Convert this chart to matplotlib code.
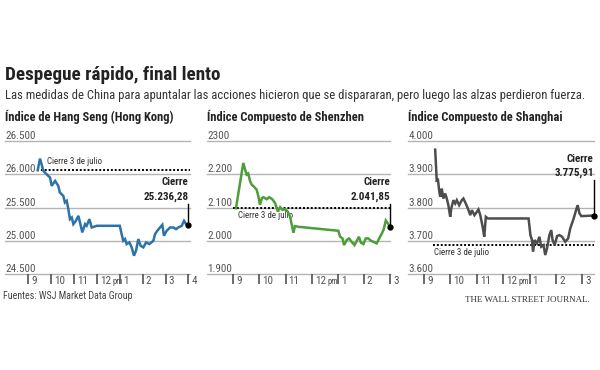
import matplotlib
matplotlib.use("Agg")
import matplotlib.pyplot as plt
import matplotlib.transforms as mtransforms

plt.rcParams['font.family'] = ['Roboto Condensed', 'Lato', 'DejaVu Sans']

# -----------------------------
# Data (hours of the trading day, index level)
# -----------------------------
hk_time = [9.41, 9.51, 9.58, 9.66, 9.80, 9.95, 10.02, 10.17, 10.31, 10.38,
           10.53, 10.60, 10.68, 10.75, 10.82, 10.90, 10.97, 11.08, 11.19, 11.26,
           11.36, 11.48, 11.55, 11.67, 11.77, 12.00, 13.00, 13.08, 13.15, 13.23,
           13.30, 13.42, 13.52, 13.62, 13.71, 13.81, 13.91, 14.03, 14.15, 14.29,
           14.47, 14.54, 14.64, 14.76, 14.86, 14.93, 15.05, 15.20, 15.34, 15.46,
           15.56, 15.71, 15.81, 15.90, 16.00]
hk_value = [26060, 26235, 26150, 26050, 26000, 25950, 25825, 25900, 25825, 25725,
            25675, 25575, 25600, 25475, 25325, 25350, 25250, 25300, 25375, 25275,
            25125, 25250, 25225, 25325, 25200, 25225, 25225, 25100, 25000, 25025,
            24950, 24975, 24900, 24775, 24850, 25025, 24925, 24900, 24975, 24950,
            25000, 25100, 25150, 25200, 25240, 25075, 25150, 25200, 25200, 25175,
            25200, 25225, 25300, 25250, 25236.28]

sz_time = [9.10, 9.38, 9.45, 9.51, 9.57, 9.64, 9.70, 9.77, 9.83, 9.89,
           9.96, 10.02, 10.09, 10.15, 10.28, 10.37, 10.49, 10.60, 10.70, 10.79,
           10.88, 10.98, 11.08, 11.17, 11.24, 11.30, 11.36, 11.49, 13.02, 13.09,
           13.18, 13.24, 13.34, 13.43, 13.53, 13.64, 13.73, 13.81, 13.89, 13.98,
           14.07, 14.17, 14.27, 14.36, 14.49, 14.62, 14.75, 14.84, 14.92, 15.00]
sz_value = [2098, 2234, 2214, 2199, 2202, 2179, 2169, 2164, 2159, 2154,
            2133, 2108, 2128, 2131, 2125, 2131, 2125, 2113, 2088, 2101,
            2093, 2095, 2088, 2073, 2047, 2024, 2044, 2042, 2030, 2012,
            2007, 1987, 2002, 2007, 1997, 1987, 2000, 2012, 1994, 1990,
            2007, 2007, 2000, 1997, 1992, 2012, 2032, 2061, 2052, 2041.85]

sh_time = [9.42, 9.46, 9.48, 9.52, 9.57, 9.61, 9.67, 9.73, 9.80, 9.86,
           9.92, 9.99, 10.03, 10.11, 10.18, 10.24, 10.33, 10.43, 10.49, 10.58,
           10.66, 10.75, 10.81, 10.91, 11.00, 11.06, 11.13, 11.22, 11.28, 11.34,
           11.42, 12.96, 13.03, 13.09, 13.13, 13.19, 13.28, 13.37, 13.44, 13.53,
           13.59, 13.66, 13.75, 13.82, 13.87, 13.95, 14.04, 14.13, 14.23, 14.35,
           14.46, 14.54, 14.67, 14.76, 14.82, 14.89, 14.96, 15.43]
sh_value = [3974, 3912, 3877, 3887, 3852, 3832, 3857, 3827, 3842, 3827,
            3807, 3772, 3797, 3822, 3812, 3822, 3807, 3822, 3827, 3812,
            3797, 3777, 3792, 3777, 3787, 3794, 3777, 3742, 3712, 3772,
            3767, 3767, 3717, 3702, 3667, 3702, 3692, 3712, 3682, 3687,
            3657, 3677, 3717, 3732, 3702, 3687, 3714, 3717, 3712, 3697,
            3707, 3737, 3767, 3792, 3807, 3782, 3774, 3775.91]

hk_yticks = [24500, 25000, 25500, 26000, 26500]
sz_yticks = [1900, 2000, 2100, 2200, 2300]
sh_yticks = [3600, 3700, 3800, 3900, 4000]
hk_ylabels = ["24.500", "25.000", "25.500", "26.000", "26.500"]
sz_ylabels = ["1.900", "2.000", "2.100", "2.200", "2300"]
sh_ylabels = ["3.600", "3.700", "3.800", "3.900", "4.000"]

hk_hours = [9, 10, 11, 12, 13, 14, 15, 16]
sz_hours = [9, 10, 11, 12, 13, 14, 15]
sh_hours = [9, 10, 11, 12, 13, 14, 15]
hk_hour_labels = ["9", "10", "11", "12 pm", "1", "2", "3", "4"]
sz_hour_labels = ["9", "10", "11", "12 pm", "1", "2", "3"]
sh_hour_labels = ["9", "10", "11", "12 pm", "1", "2", "3"]

hk_prev_close = 26064.11
sz_prev_close = 2098.0
sh_prev_close = 3686.92

hk_close_label = "25.236,28"
sz_close_label = "2.041,85"
sh_close_label = "3.775,91"

# -----------------------------
# Figure
# -----------------------------
fig = plt.figure(figsize=(6, 3.7), dpi=100)

GRID = "#b4b4b4"
TXT = "#555555"

panels = [
    dict(rect=[5 / 600, 1 - 274 / 370, 185 / 600, 133 / 370], xlim=(7.98, 16.07),
         t=hk_time, v=hk_value, color="#2b73a8", yt=hk_yticks, yl=hk_ylabels,
         hours=hk_hours, hl=hk_hour_labels, prev=hk_prev_close, prev_start=9.36,
         prev_lab=(9.8, "bottom"), close=hk_close_label, ann=(0.69, 0.58, 0.53),
         title="Índice de Hang Seng (Hong Kong)"),
    dict(rect=[207 / 600, 1 - 274 / 370, 183 / 600, 133 / 370], xlim=(7.99, 15.0),
         t=sz_time, v=sz_value, color="#4e9d3b", yt=sz_yticks, yl=sz_ylabels,
         hours=sz_hours, hl=sz_hour_labels, prev=sz_prev_close, prev_start=9.0,
         prev_lab=(9.19, "top"), close=sz_close_label, ann=(0.69, 0.58, 0.53),
         title="Índice Compuesto de Shenzhen"),
    dict(rect=[408 / 600, 1 - 274 / 370, 186 / 600, 133 / 370], xlim=(8.39, 15.44),
         t=sh_time, v=sh_value, color="#4d4d4d", yt=sh_yticks, yl=sh_ylabels,
         hours=sh_hours, hl=sh_hour_labels, prev=sh_prev_close, prev_start=9.35,
         prev_lab=(9.38, "top"), close=sh_close_label, ann=(0.865, 0.76, 0.71),
         title="Índice Compuesto de Shanghai"),
]

for p in panels:
    ax = fig.add_axes(p["rect"])
    ax.set_xlim(*p["xlim"])
    ax.set_ylim(p["yt"][0], p["yt"][-1])
    for s in ax.spines.values():
        s.set_visible(False)
    ax.set_yticks([])
    ax.patch.set_alpha(0)

    # gridlines + labels sitting on top of them
    for val, lab in zip(p["yt"], p["yl"]):
        ax.axhline(val, color=GRID, lw=1.0, zorder=1, clip_on=False)
        ax.text(p["xlim"][0] + 0.02, val, lab, fontsize=8, color=TXT,
                va="bottom", ha="left")

    # hour ticks below the axis, label to the right of each tick
    ax.set_xticks(p["hours"])
    ax.set_xticklabels([])
    ax.tick_params(axis="x", length=7.5, width=1.1, color="#444444", direction="out", pad=0)
    off = mtransforms.offset_copy(ax.get_xaxis_transform(), fig=fig, x=3, y=0, units="dots")
    off_pm = mtransforms.offset_copy(ax.get_xaxis_transform(), fig=fig, x=15.5, y=0, units="dots")
    for h, lab in zip(p["hours"], p["hl"]):
        parts = lab.split(" ")
        ax.text(h, -0.05, parts[0], transform=off, fontsize=8, color=TXT,
                ha="left", va="center")
        if len(parts) > 1:
            ax.text(h, -0.055, parts[1], transform=off_pm, fontsize=6.2, color=TXT,
                    ha="left", va="center")

    # previous close (July 3)
    ax.plot([p["prev_start"], p["xlim"][1]], [p["prev"], p["prev"]], color="black",
            lw=1.4, ls=(0, (1, 1)), zorder=2, clip_on=False)
    lx, lva = p["prev_lab"]
    dy = 4 if lva == "bottom" else -3
    toff = mtransforms.offset_copy(ax.transData, fig=fig, x=0, y=dy, units="dots")
    ax.text(lx, p["prev"], "Cierre 3 de julio", transform=toff, fontsize=6.5,
            color="#333333", va=lva, ha="left")

    # index line
    ax.plot(p["t"], p["v"], color=p["color"], lw=1.8, zorder=3, clip_on=False,
            solid_joinstyle="miter")

    # close annotation
    xe, ye = p["t"][-1], p["v"][-1]
    ax.plot([xe], [ye], "o", color="black", ms=3.5, zorder=4, clip_on=False)
    yc, yv, ytop = p["ann"]
    bt = mtransforms.blended_transform_factory(ax.transData, ax.transAxes)
    ax.plot([xe, xe], [ytop, (ye - p["yt"][0]) / (p["yt"][-1] - p["yt"][0])],
            transform=bt, color="black", lw=1.0, zorder=4, clip_on=False)
    ax.text(xe, yc, "Cierre", transform=bt, fontsize=8, fontweight="bold",
            color="#222222", ha="right", va="center")
    ax.text(xe, yv, p["close"], transform=bt, fontsize=8, fontweight="bold",
            color="#222222", ha="right", va="center")

    fig.text(p["rect"][0], 1 - 117 / 370, p["title"], fontsize=9,
             fontweight="bold", color="#222222", ha="left", va="center")

fig.text(5 / 600, 1 - 75 / 370, "Despegue rápido, final lento", fontsize=13.8,
         fontweight="bold", color="#222222", ha="left", va="center")
fig.text(5 / 600, 1 - 95 / 370,
         "Las medidas de China para apuntalar las acciones hicieron que se dispararan, "
         "pero luego las alzas perdieron fuerza.",
         fontsize=9.1, color="#333333", ha="left", va="center")
fig.text(3 / 600, 1 - 296 / 370, "Fuentes: WSJ Market Data Group", fontsize=7.2,
         color="#444444", ha="left", va="center")
fig.text(590 / 600, 1 - 300 / 370, "THE WALL STREET JOURNAL.", fontsize=6.5,
         family=["Liberation Serif", "DejaVu Serif"], color="#333333",
         ha="right", va="center")

fig.savefig("out.png", dpi=100, facecolor="white")
